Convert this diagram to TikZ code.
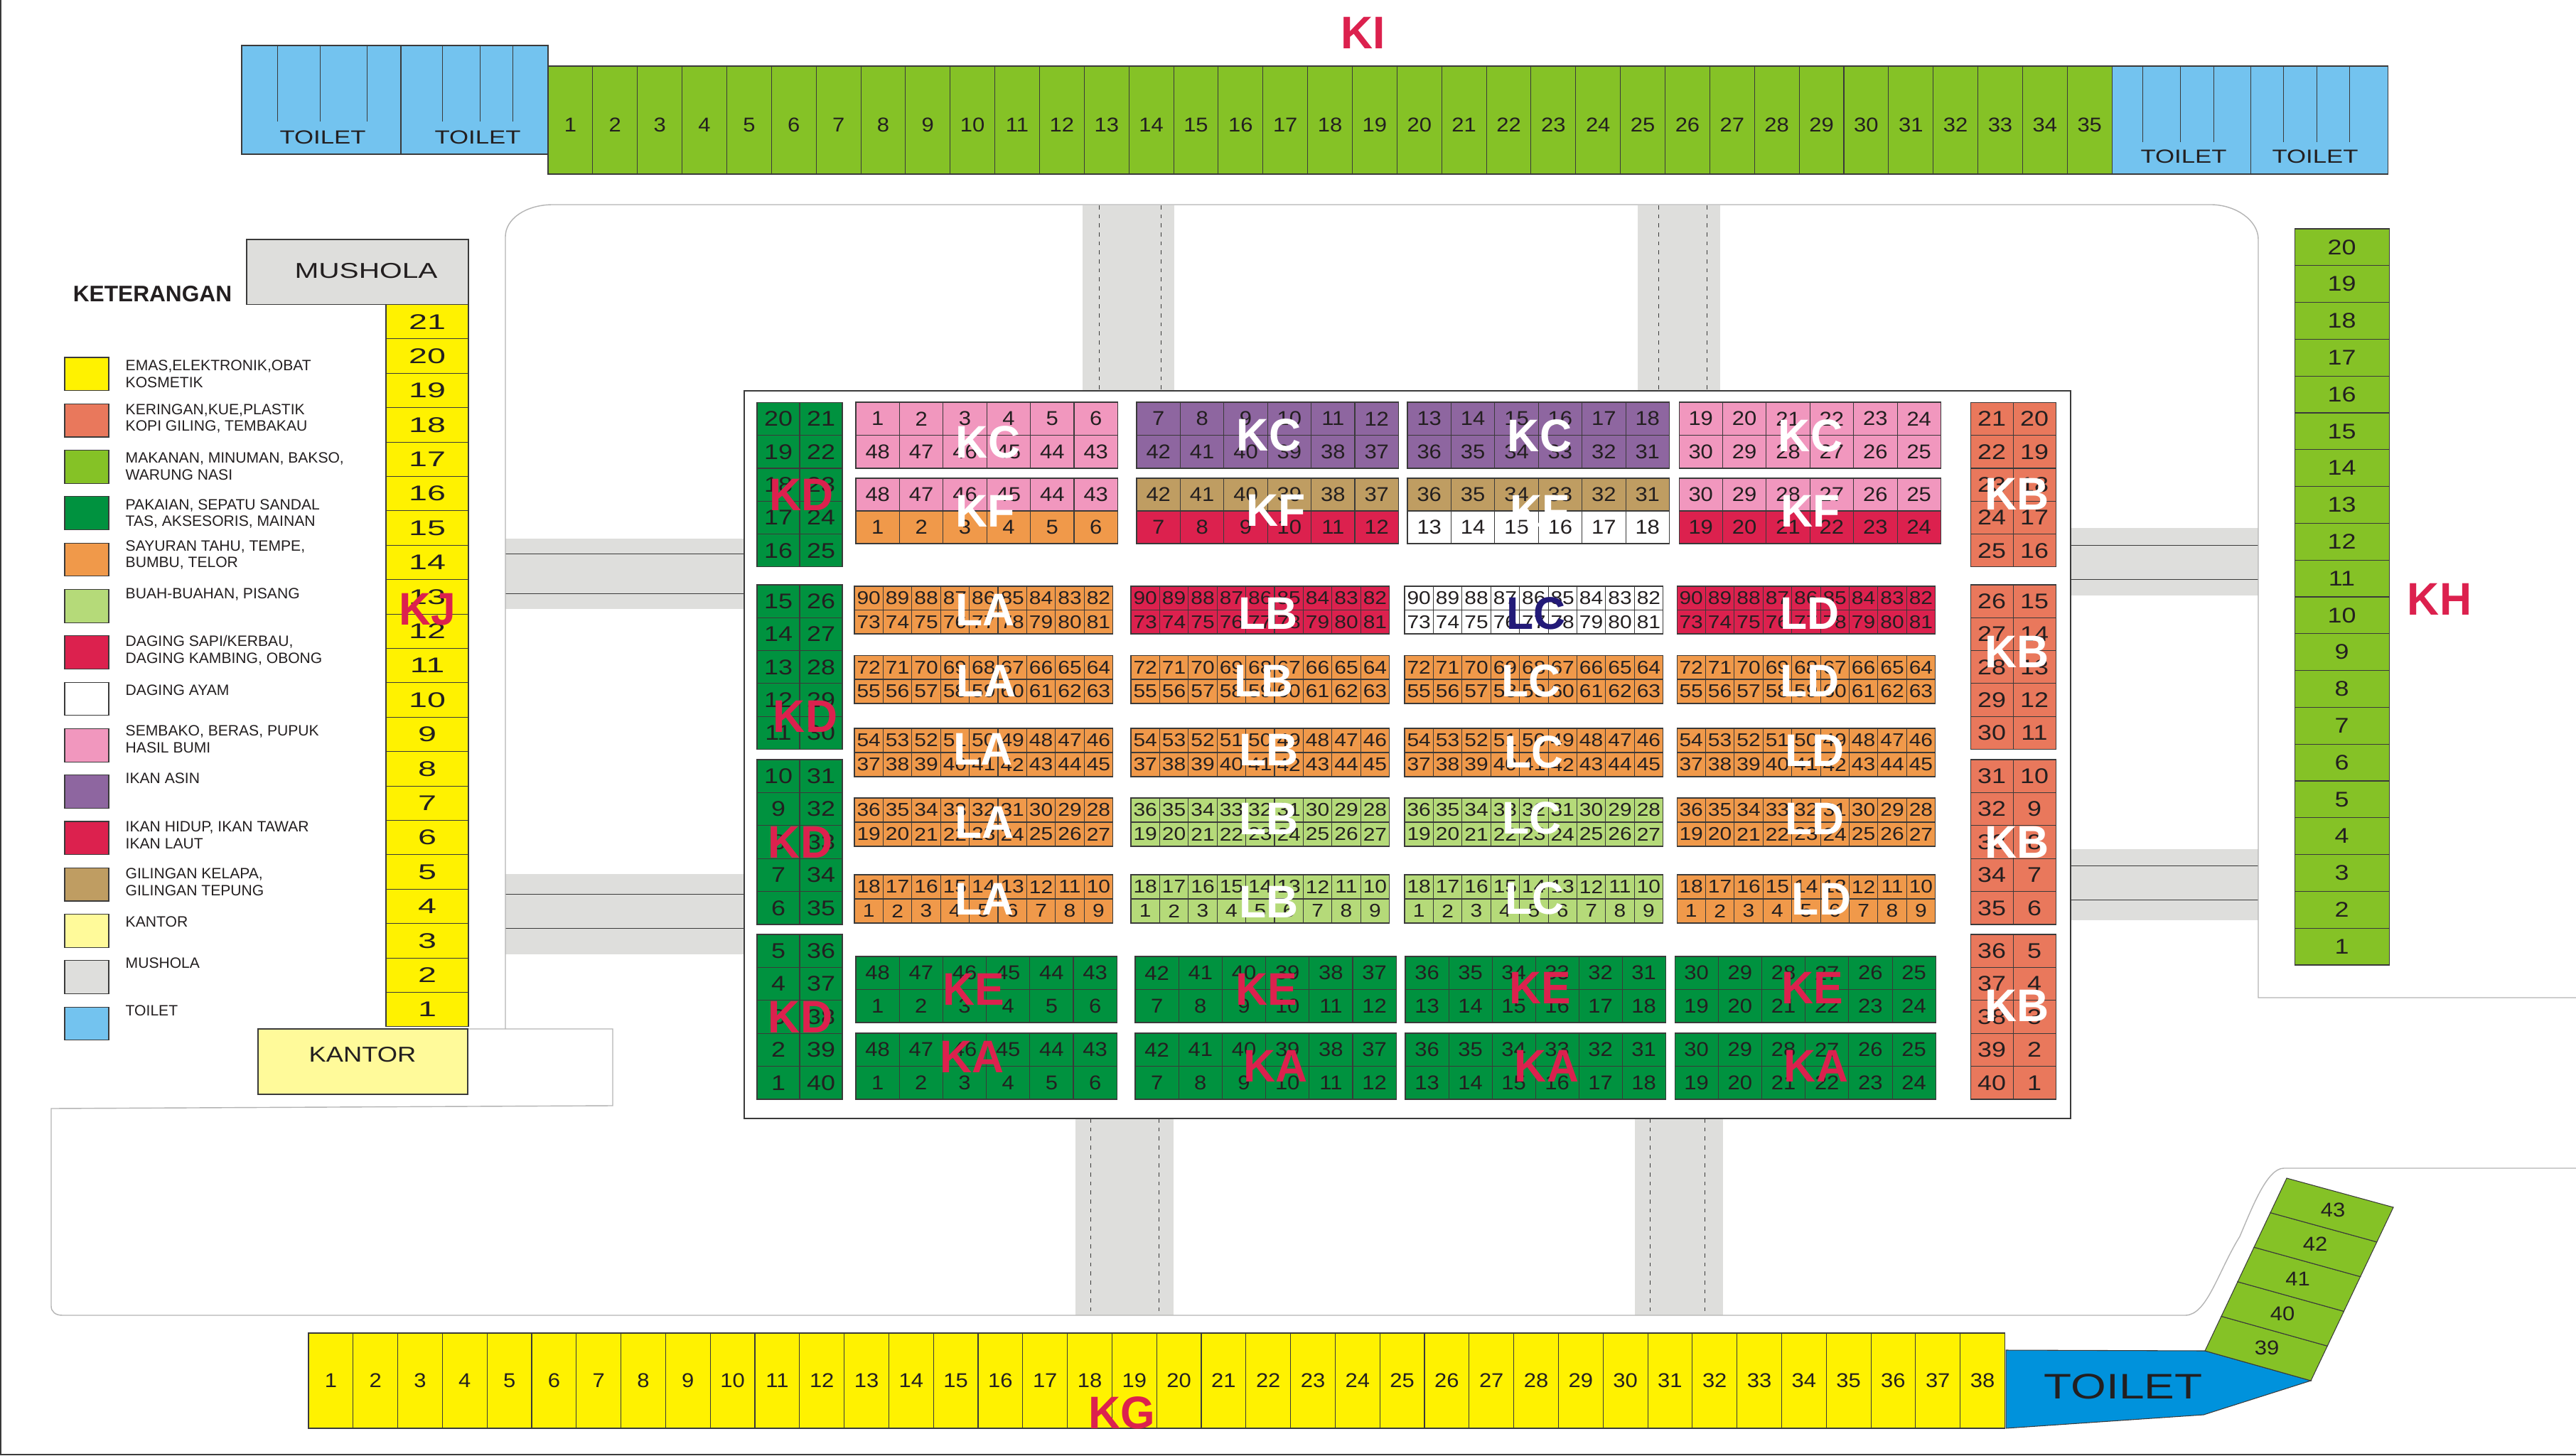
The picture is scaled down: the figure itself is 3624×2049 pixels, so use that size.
\documentclass[tikz,border=0pt]{standalone}
\usepackage{fontspec}
\setmainfont{Liberation Sans}
\usetikzlibrary{calc}

\definecolor{inkblack}{HTML}{231F20}
\definecolor{linegrey}{HTML}{3A3A3A}
\definecolor{outlinegrey}{HTML}{B4B4B4}
\definecolor{yellowstall}{HTML}{FFF200}
\definecolor{keringstall}{HTML}{E9785C}
\definecolor{limestall}{HTML}{85C226}
\definecolor{pakaianstall}{HTML}{00923F}
\definecolor{sayurstall}{HTML}{F0994A}
\definecolor{buahstall}{HTML}{B5DA79}
\definecolor{redstall}{HTML}{DC214E}
\definecolor{pinkstall}{HTML}{F197BE}
\definecolor{asinstall}{HTML}{8E66A0}
\definecolor{tanstall}{HTML}{BF9D62}
\definecolor{kantorstall}{HTML}{FFFA9A}
\definecolor{roadgrey}{HTML}{DEDEDC}
\definecolor{skystall}{HTML}{73C3EF}
\definecolor{toiletblue}{HTML}{0092DC}
\definecolor{navylabel}{HTML}{231A78}

\tikzset{
  stall/.style={draw=linegrey,line width=0.3pt},
  road/.style={fill=roadgrey,draw=none},
  roadline/.style={draw=linegrey,line width=0.25pt},
  roaddash/.style={draw=linegrey,line width=0.2pt,dash pattern=on 1.6pt off 2pt},
  outline/.style={draw=outlinegrey,line width=0.4pt},
  numM/.style={text=inkblack,font=\fontsize{8}{8}\selectfont,xscale=1.1,inner sep=0pt},
  numS/.style={text=inkblack,font=\fontsize{7.4}{7.4}\selectfont,xscale=1.15,inner sep=0pt},
  numL/.style={text=inkblack,font=\fontsize{8.5}{8.5}\selectfont,xscale=1.2,inner sep=0pt},
  numJ/.style={numL,xscale=1.3},
  numKI/.style={numM,yshift=-0.07cm},
  toiletlabel/.style={text=inkblack,font=\fontsize{7.6}{7.6}\selectfont,xscale=1.3,inner sep=0pt},
  boxlabel/.style={text=inkblack,font=\fontsize{8.6}{8.6}\selectfont,xscale=1.2,inner sep=0pt},
  legendlabel/.style={text=inkblack,font=\fontsize{6}{6.8}\selectfont,align=left,anchor=west,inner sep=0pt},
  bigwhite/.style={text=white,font=\fontsize{18.3}{18.3}\bfseries,xscale=0.97,inner sep=0pt},
  bigred/.style={bigwhite,text=redstall},
  bignavy/.style={bigwhite,text=navylabel}
}

% row of stalls: name, x, y, width, height, colour, text style, numbers
\newcommand{\stallsH}[8]{
  \foreach \lab [count=\i] in {#8} {
    \pgfmathsetmacro\xa{#2+(\i-1)*#4}
    \draw[stall,fill=#6] (\xa,#3) rectangle ++(#4,#5);
    \node[#7] (#1-\i) at (\xa+#4/2,#3+#5/2) {\lab};
  }
}
% column of stalls, same arguments
\newcommand{\stallsV}[8]{
  \foreach \lab [count=\i] in {#8} {
    \pgfmathsetmacro\ya{#3+(\i-1)*#5}
    \draw[stall,fill=#6] (#2,\ya) rectangle ++(#4,#5);
    \node[#7] (#1-\i) at (#2+#4/2,\ya+#5/2) {\lab};
  }
}

\begin{document}
\begin{tikzpicture}[x=0.01cm,y=-0.01cm]
\useasboundingbox (0,0) rectangle (3624,2049);
\fill[white] (0,0) rectangle (3624,2049);

% page frame
\draw[linegrey,line width=0.5pt] (1,0) -- (1,2047) -- (3624,2047);

% roads
\fill[road] (1523,289) rectangle (1652,550);
\fill[road] (2304,289) rectangle (2420,550);
\fill[road] (1513,1574) rectangle (1651,1851);
\fill[road] (2300,1574) rectangle (2424,1851);
\fill[road] (711,758) rectangle (1047,857);
\fill[road] (711,1230) rectangle (1047,1343);
\fill[road] (2913,743) rectangle (3177,838);
\fill[road] (2913,1195) rectangle (3177,1295);
\draw[roaddash] (1546,289) -- (1546,550);
\draw[roaddash] (1633,289) -- (1633,550);
\draw[roaddash] (2333,289) -- (2333,550);
\draw[roaddash] (2401,289) -- (2401,550);
\draw[roaddash] (1534,1574) -- (1534,1851);
\draw[roaddash] (1630,1574) -- (1630,1851);
\draw[roaddash] (2321,1574) -- (2321,1851);
\draw[roaddash] (2398,1574) -- (2398,1851);
\draw[roadline] (711,779) -- (1047,779);
\draw[roadline] (711,835) -- (1047,835);
\draw[roadline] (711,1258) -- (1047,1258);
\draw[roadline] (711,1306) -- (1047,1306);
\draw[roadline] (2913,767) -- (3177,767);
\draw[roadline] (2913,815) -- (3177,815);
\draw[roadline] (2913,1218) -- (3177,1218);
\draw[roadline] (2913,1266) -- (3177,1266);

% road outline
\draw[outline] (3624,1404) -- (3177,1404) -- (3177,337)
  .. controls (3177,310) and (3145,288) .. (3110,288) -- (778,288)
  .. controls (740,288) and (711,308) .. (711,333) -- (711,1448);
\draw[outline] (658,1448) -- (862,1448) -- (862,1556) -- (72,1560) -- (72,1838)
  .. controls (72,1846) and (78,1851) .. (88,1851) -- (3074,1851)
  .. controls (3105,1851) and (3120,1790) .. (3151,1740)
  .. controls (3170,1695) and (3190,1644) .. (3213,1644) -- (3624,1644);

% market hall
\draw[draw=linegrey,line width=0.6pt,fill=white] (1047,550) rectangle (2913,1574);

% KI with its toilets
\fill[skystall] (340,64) rectangle (771,217);
\draw[stall] (340,64) rectangle (771,217);
\draw[stall] (564,64) -- (564,217);
\foreach \tx in {390.5,450.5,516,622,675,721.5}
  \draw[stall,line width=0.25pt] (\tx,64) -- (\tx,171);
\node[toiletlabel] (toiletA) at (454,193) {TOILET};
\node[toiletlabel] (toiletB) at (672,193) {TOILET};
\stallsH{ki}{771}{93}{62.86}{152}{limestall}{numKI}{1,...,35}
\fill[skystall] (2971,93) rectangle (3359,245);
\draw[stall] (2971,93) rectangle (3359,245);
\draw[stall] (3166,93) -- (3166,245);
\foreach \tx in {3014,3067,3114,3212.5,3259,3305.5}
  \draw[stall,line width=0.25pt] (\tx,93) -- (\tx,200);
\node[toiletlabel] (toiletC) at (3072,220) {TOILET};
\node[toiletlabel] (toiletD) at (3257,220) {TOILET};

% KH
\stallsV{kh}{3228}{322}{133}{51.8}{limestall}{numL}{20,19,...,1}

% KJ, mushola, kantor
\draw[stall,fill=roadgrey] (347,337) rectangle (659,428.5);
\node[boxlabel,xscale=1.12] (mushola) at (515,381) {MUSHOLA};
\stallsV{kj}{543}{428.5}{116}{48.4}{yellowstall}{numJ}{21,20,...,1}
\draw[stall,fill=kantorstall] (363,1448) rectangle (658,1540);
\node[boxlabel] (kantor) at (510,1484) {KANTOR};

% legend
\node[text=inkblack,font=\fontsize{9}{9}\bfseries,inner sep=0pt] (keterangan) at (214.5,414) {KETERANGAN};
\foreach \col/\ty/\txt [count=\i] in {
  yellowstall/526/{EMAS,ELEKTRONIK,OBAT\\KOSMETIK},
  keringstall/589/{KERINGAN,KUE,PLASTIK\\KOPI GILING, TEMBAKAU},
  limestall/656/{MAKANAN, MINUMAN, BAKSO,\\WARUNG NASI},
  pakaianstall/723/{PAKAIAN, SEPATU SANDAL\\TAS, AKSESORIS, MAINAN},
  sayurstall/781/{SAYURAN TAHU, TEMPE,\\BUMBU, TELOR},
  buahstall/836/{BUAH-BUAHAN, PISANG},
  redstall/915/{DAGING SAPI/KERBAU,\\DAGING KAMBING, OBONG},
  white/971/{DAGING AYAM},
  pinkstall/1040/{SEMBAKO, BERAS, PUPUK\\HASIL BUMI},
  asinstall/1095/{IKAN ASIN},
  redstall/1175/{IKAN HIDUP, IKAN TAWAR\\IKAN LAUT},
  tanstall/1241.5/{GILINGAN KELAPA,\\GILINGAN TEPUNG},
  kantorstall/1297/{KANTOR},
  roadgrey/1355/{MUSHOLA},
  skystall/1422/{TOILET}} {
  \pgfmathsetmacro\ya{503+(\i-1)*65.3}
  \draw[stall,fill=\col] (91,\ya) rectangle ++(62,46.7);
  \node[legendlabel] (legend-\i) at (176,\ty) {\txt};
}

% KD and KB
\stallsV{kdA}{1065}{566.4}{60}{46.3}{pakaianstall}{numL}{20,19,...,16}
\stallsV{kdB}{1125}{566.4}{60}{46.3}{pakaianstall}{numL}{21,22,...,25}
\stallsV{kdC}{1065}{823}{60}{46.3}{pakaianstall}{numL}{15,14,...,11}
\stallsV{kdD}{1125}{823}{60}{46.3}{pakaianstall}{numL}{26,27,...,30}
\stallsV{kdE}{1065}{1069}{60}{46.4}{pakaianstall}{numL}{10,9,...,6}
\stallsV{kdF}{1125}{1069}{60}{46.4}{pakaianstall}{numL}{31,32,...,35}
\stallsV{kdG}{1065}{1315}{60}{46.4}{pakaianstall}{numL}{5,4,...,1}
\stallsV{kdH}{1125}{1315}{60}{46.4}{pakaianstall}{numL}{36,37,...,40}
\stallsV{kbA}{2772}{566.4}{60}{46.3}{keringstall}{numL}{21,22,...,25}
\stallsV{kbB}{2832}{566.4}{60}{46.3}{keringstall}{numL}{20,19,...,16}
\stallsV{kbC}{2772}{823}{60}{46.3}{keringstall}{numL}{26,27,...,30}
\stallsV{kbD}{2832}{823}{60}{46.3}{keringstall}{numL}{15,14,...,11}
\stallsV{kbE}{2772}{1069}{60}{46.4}{keringstall}{numL}{31,32,...,35}
\stallsV{kbF}{2832}{1069}{60}{46.4}{keringstall}{numL}{10,9,...,6}
\stallsV{kbG}{2772}{1315}{60}{46.4}{keringstall}{numL}{36,37,...,40}
\stallsV{kbH}{2832}{1315}{60}{46.4}{keringstall}{numL}{5,4,...,1}

% KC and KF
\stallsH{kcA}{1204}{566}{61.4}{46.5}{pinkstall}{numM}{1,...,6}
\stallsH{kcB}{1204}{612.5}{61.4}{46.5}{pinkstall}{numM}{48,47,...,43}
\stallsH{kfA}{1204}{673}{61.4}{46}{pinkstall}{numM}{48,47,...,43}
\stallsH{kfB}{1204}{719}{61.4}{46}{sayurstall}{numM}{1,...,6}
\stallsH{kcC}{1599}{566}{61.4}{46.5}{asinstall}{numM}{7,...,12}
\stallsH{kcD}{1599}{612.5}{61.4}{46.5}{asinstall}{numM}{42,41,...,37}
\stallsH{kfC}{1599}{673}{61.4}{46}{tanstall}{numM}{42,41,...,37}
\stallsH{kfD}{1599}{719}{61.4}{46}{redstall}{numM}{7,...,12}
\stallsH{kcE}{1980}{566}{61.4}{46.5}{asinstall}{numM}{13,...,18}
\stallsH{kcF}{1980}{612.5}{61.4}{46.5}{asinstall}{numM}{36,35,...,31}
\stallsH{kfE}{1980}{673}{61.4}{46}{tanstall}{numM}{36,35,...,31}
\stallsH{kfF}{1980}{719}{61.4}{46}{white}{numM}{13,...,18}
\stallsH{kcG}{2362}{566}{61.4}{46.5}{pinkstall}{numM}{19,...,24}
\stallsH{kcH}{2362}{612.5}{61.4}{46.5}{pinkstall}{numM}{30,29,...,25}
\stallsH{kfG}{2362}{673}{61.4}{46}{pinkstall}{numM}{30,29,...,25}
\stallsH{kfH}{2362}{719}{61.4}{46}{redstall}{numM}{19,...,24}

% LA to LD
\foreach \lnm/\xo/\ca/\cb in {
  la/1202/sayurstall/sayurstall,
  lb/1591/redstall/buahstall,
  lc/1976/white/buahstall,
  ld/2359/redstall/sayurstall} {
  \stallsH{\lnm-a}{\xo}{825}{40.4}{33.5}{\ca}{numS}{90,89,...,82}
  \stallsH{\lnm-b}{\xo}{858.5}{40.4}{33.5}{\ca}{numS}{73,...,81}
  \stallsH{\lnm-c}{\xo}{922.5}{40.4}{33.5}{sayurstall}{numS}{72,71,...,64}
  \stallsH{\lnm-d}{\xo}{956}{40.4}{34}{sayurstall}{numS}{55,...,63}
  \stallsH{\lnm-e}{\xo}{1025}{40.4}{34}{sayurstall}{numS}{54,53,...,46}
  \stallsH{\lnm-f}{\xo}{1059}{40.4}{34}{sayurstall}{numS}{37,...,45}
  \stallsH{\lnm-g}{\xo}{1123}{40.4}{34}{\cb}{numS}{36,35,...,28}
  \stallsH{\lnm-h}{\xo}{1157}{40.4}{34}{\cb}{numS}{19,...,27}
  \stallsH{\lnm-i}{\xo}{1231}{40.4}{34}{\cb}{numS}{18,17,...,10}
  \stallsH{\lnm-j}{\xo}{1265}{40.4}{34}{\cb}{numS}{1,...,9}
}

% KE and KA
\foreach \knm/\xo/\cw/\ta/\tb/\tc/\ba/\bb in {
  a/1204/61.2/48/47/43/1/6,
  b/1597/61.2/42/41/37/7/12,
  c/1977/61/36/35/31/13/18,
  d/2356/61.2/30/29/25/19/24} {
  \stallsH{ke\knm-t}{\xo}{1346}{\cw}{46.5}{pakaianstall}{numM}{\ta,\tb,...,\tc}
  \stallsH{ke\knm-b}{\xo}{1392.5}{\cw}{46.5}{pakaianstall}{numM}{\ba,...,\bb}
  \stallsH{ka\knm-t}{\xo}{1454}{\cw}{46.5}{pakaianstall}{numM}{\ta,\tb,...,\tc}
  \stallsH{ka\knm-b}{\xo}{1500.5}{\cw}{46.5}{pakaianstall}{numM}{\ba,...,\bb}
}

% KG, its toilet and the angled stalls
\stallsH{kg}{434}{1876}{62.8}{134}{yellowstall}{numM}{1,...,38}
\coordinate (ga) at (3217,1658);
\coordinate (gb) at (3367,1699);
\coordinate (gc) at (3251,1943);
\coordinate (gd) at (3102,1901);
\draw[stall,fill=toiletblue] (2822,1900) -- (gd) -- (gc) -- (3100,1991) -- (2822,2010) -- cycle;
\node[text=inkblack,font=\fontsize{14.2}{14.2}\selectfont,xscale=1.28,inner sep=0pt] (toiletE) at (2987,1951) {TOILET};
\foreach \lab/\lx/\ly [count=\i from 0] in {39/3189/1897,40/3211/1849,41/3232.6/1800,42/3257/1751,43/3282/1703} {
  \pgfmathsetmacro\fa{\i/5}
  \pgfmathsetmacro\fb{(\i+1)/5}
  \draw[stall,fill=limestall] ($(gd)!\fa!(ga)$) -- ($(gd)!\fb!(ga)$) -- ($(gc)!\fb!(gb)$) -- ($(gc)!\fa!(gb)$) -- cycle;
  \node[numM] (kg-\lab) at (\lx,\ly) {\lab};
}

% block letters
\foreach \lab/\lx/\ly [count=\i] in {
  KC/1390/622,KC/1785/612,KC/2166/613,KC/2547/613,
  KF/1386/719,KF/1795/718,KF/2166/719,KF/2547/719,
  KB/2837.5/695,KB/2837.5/917,KB/2837.5/1185,KB/2837.5/1415,
  LA/1386/858,LA/1387.5/958,LA/1383/1054,LA/1385/1157,LA/1385/1265,
  LB/1784/863,LB/1778/958.6,LB/1785/1055,LB/1785/1152,LB/1785/1269,
  LC/2154/958.6,LC/2158/1058.6,LC/2155/1151,LC/2159/1264,
  LD/2546/863,LD/2546/958.6,LD/2553/1056,LD/2553/1152,LD/2562.5/1265} {
  \node[bigwhite] (white-\i) at (\lx,\ly) {\lab};
}
\node[bignavy] (lcnavy) at (2161,863) {LC};
\foreach \lab/\lx/\ly [count=\i] in {
  KD/1127.5/696,KD/1133/1008,KD/1126/1185,KD/1126/1431,
  KE/1370/1392,KE/1782/1392,KE/2167/1390,KE/2550/1390,
  KA/1367.5/1487,KA/1794.5/1500,KA/2176/1500,KA/2555/1500,
  KJ/601.5/858,KH/3432/843,KI/1918/46,KG/1578/1988} {
  \node[bigred] (red-\i) at (\lx,\ly) {\lab};
}
\end{tikzpicture}
\end{document}
